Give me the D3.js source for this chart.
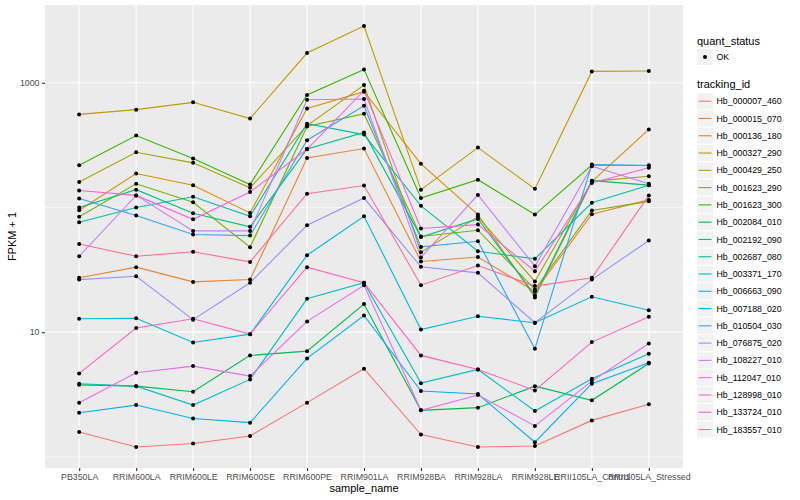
<!DOCTYPE html>
<html>
<head>
<meta charset="utf-8">
<script src="https://cdn.jsdelivr.net/npm/d3@7"></script>
<style>
  body { margin: 0; background: #fff; }
  svg { display: block; font-family: "Liberation Sans", Arial, Helvetica, sans-serif; }
</style>
</head>
<body>
<script>
// samples on the x axis
const samples = ["PB350LA", "RRIM600LA", "RRIM600LE", "RRIM600SE", "RRIM600PE", "RRIM901LA",
  "RRIM928BA", "RRIM928LA", "RRIM928LE", "RRII105LA_Control", "RRII105LA_Stressed"];

// FPKM + 1 per gene, one value per sample
const hb_000007_460 = [1.58, 1.20, 1.28, 1.47, 2.72, 5.09, 1.51, 1.20, 1.22, 1.96, 2.64];
const hb_000015_070 = [27.3, 33.2, 25.3, 26.4, 249, 297, 36.9, 40.1, 21.2, 88.2, 115];
const hb_000136_180 = [95.0, 187, 151, 90.5, 623, 848, 224, 87.7, 19.0, 161, 423];
const hb_000327_290 = [558, 609, 697, 517, 1733, 2852, 139, 302, 141, 1234, 1243];
const hb_000429_250 = [160, 277, 228, 144, 453, 960, 43.8, 84.1, 25.5, 162, 178];
const hb_001623_290 = [84.1, 155, 110, 48.0, 447, 565, 58.5, 65.7, 22.0, 94.5, 112];
const hb_001623_300 = [218, 377, 247, 153, 799, 1281, 119, 167, 87.7, 219, 217];
const hb_002084_010 = [3.78, 3.69, 3.33, 6.51, 7.04, 16.8, 2.36, 2.48, 3.69, 2.84, 5.61];
const hb_002192_090 = [99.8, 139, 89.8, 69.9, 295, 400, 57.9, 81.0, 19.7, 164, 151];
const hb_002687_080 = [76.1, 99.8, 122, 85.0, 470, 384, 103, 44.6, 38.7, 109, 151];
const hb_003371_170 = [3.86, 3.69, 2.60, 4.18, 18.5, 24.9, 3.90, 5.02, 2.33, 4.23, 6.71];
const hb_006663_090 = [12.8, 12.9, 8.27, 9.64, 41.4, 85.0, 10.5, 13.4, 11.9, 19.2, 15.0];
const hb_007188_020 = [2.26, 2.60, 2.03, 1.88, 6.16, 13.6, 3.37, 3.19, 1.31, 3.86, 5.69];
const hb_010504_030 = [118, 86.1, 60.7, 59.5, 346, 655, 48.3, 53.6, 7.36, 221, 217];
const hb_076875_020 = [26.4, 28.1, 12.6, 24.9, 72.0, 119, 33.4, 29.9, 11.9, 26.4, 54.3];
const hb_108227_010 = [40.6, 125, 64.9, 64.9, 732, 742, 39.7, 126, 33.8, 214, 155];
const hb_112047_010 = [2.72, 4.73, 5.34, 4.44, 12.2, 23.8, 2.36, 3.13, 1.77, 4.05, 8.12];
const hb_128998_010 = [137, 125, 80.4, 133, 293, 865, 67.8, 72.9, 30.8, 157, 208];
const hb_133724_010 = [4.67, 10.8, 12.8, 9.64, 33.2, 24.9, 6.51, 5.02, 3.41, 8.32, 13.3];
const hb_183557_010 = [50.9, 40.6, 44.1, 36.6, 129, 150, 23.8, 34.2, 23.4, 27.3, 125];

const trackingIds = ["Hb_000007_460", "Hb_000015_070", "Hb_000136_180", "Hb_000327_290",
  "Hb_000429_250", "Hb_001623_290", "Hb_001623_300", "Hb_002084_010", "Hb_002192_090",
  "Hb_002687_080", "Hb_003371_170", "Hb_006663_090", "Hb_007188_020", "Hb_010504_030",
  "Hb_076875_020", "Hb_108227_010", "Hb_112047_010", "Hb_128998_010", "Hb_133724_010",
  "Hb_183557_010"];

const seriesValues = [hb_000007_460, hb_000015_070, hb_000136_180, hb_000327_290,
  hb_000429_250, hb_001623_290, hb_001623_300, hb_002084_010, hb_002192_090,
  hb_002687_080, hb_003371_170, hb_006663_090, hb_007188_020, hb_010504_030,
  hb_076875_020, hb_108227_010, hb_112047_010, hb_128998_010, hb_133724_010,
  hb_183557_010];

const statusLabels = ["OK"];
const majorBreaks = [10, 1000];
const minorBreaks = [1, 100, 10000];

const series = trackingIds.map((id, i) => ({ id: id, values: seriesValues[i] }));

const width = 800, height = 500;
const panel = { left: 45, right: 683, top: 5, bottom: 468 };

// ggplot default hue palette for 20 levels
const z = d3.scaleOrdinal()
    .domain(trackingIds)
    .range(["#F8766D", "#EA8331", "#D89000", "#C09B00", "#A3A500", "#7CAE00", "#39B600",
            "#00BB4E", "#00BF7D", "#00C1A3", "#00BFC4", "#00BAE0", "#00B0F6", "#35A2FF",
            "#9590FF", "#C77CFF", "#E76BF3", "#FA62DB", "#FF62BC", "#FF6C91"]);

const x = d3.scalePoint()
    .domain(samples)
    .range([panel.left, panel.right])
    .padding(0.6);

// log scale with 5% expansion of the data range, like ggplot
const ext = d3.extent(seriesValues.flat()).map(Math.log10);
const pad = (ext[1] - ext[0]) * 0.05;
const y = d3.scaleLog()
    .domain([Math.pow(10, ext[0] - pad), Math.pow(10, ext[1] + pad)])
    .range([panel.bottom, panel.top]);

const svg = d3.select("body").append("svg")
    .attr("width", width)
    .attr("height", height);

svg.append("rect")
    .attr("width", width)
    .attr("height", height)
    .attr("fill", "#fff");

// panel + grid
svg.append("rect")
    .attr("x", panel.left)
    .attr("y", panel.top)
    .attr("width", panel.right - panel.left)
    .attr("height", panel.bottom - panel.top)
    .attr("fill", "#EBEBEB");

const grid = svg.append("g").attr("stroke", "#fff");

grid.selectAll(".minor")
  .data(minorBreaks.filter(d => d >= y.domain()[0] && d <= y.domain()[1]))
  .join("line")
    .attr("class", "minor")
    .attr("x1", panel.left)
    .attr("x2", panel.right)
    .attr("y1", d => y(d))
    .attr("y2", d => y(d))
    .attr("stroke-width", 0.55);

grid.selectAll(".major")
  .data(majorBreaks)
  .join("line")
    .attr("class", "major")
    .attr("x1", panel.left)
    .attr("x2", panel.right)
    .attr("y1", d => y(d))
    .attr("y2", d => y(d))
    .attr("stroke-width", 1.1);

grid.selectAll(".vmajor")
  .data(samples)
  .join("line")
    .attr("class", "vmajor")
    .attr("x1", d => x(d))
    .attr("x2", d => x(d))
    .attr("y1", panel.top)
    .attr("y2", panel.bottom)
    .attr("stroke-width", 1.1);

// lines
const line = d3.line()
    .x((d, i) => x(samples[i]))
    .y(d => y(d));

svg.append("g")
    .attr("fill", "none")
    .attr("stroke-width", 1.1)
  .selectAll("path")
  .data(series)
  .join("path")
    .attr("stroke", d => z(d.id))
    .attr("d", d => line(d.values));

// points
svg.append("g")
    .attr("fill", "#000")
  .selectAll("g")
  .data(series)
  .join("g")
  .selectAll("circle")
  .data(d => d.values.map((v, i) => ({ sample: samples[i], value: v })))
  .join("circle")
    .attr("cx", d => x(d.sample))
    .attr("cy", d => y(d.value))
    .attr("r", 2);

// axes
const yAxis = svg.append("g")
    .attr("transform", `translate(${panel.left},0)`)
    .call(d3.axisLeft(y).tickValues(majorBreaks).tickFormat(d3.format("d")).tickSize(3).tickPadding(2.5));

const xAxis = svg.append("g")
    .attr("transform", `translate(0,${panel.bottom})`)
    .call(d3.axisBottom(x).tickSize(3).tickPadding(2.5));

[xAxis, yAxis].forEach(g => {
  g.select(".domain").remove();
  g.selectAll(".tick line").attr("stroke", "#333333").attr("stroke-width", 1.1);
  g.selectAll(".tick text")
      .attr("fill", "#4D4D4D")
      .style("font-size", "8.8px")
      .style("font-family", "'Liberation Sans', Arial, sans-serif");
});

svg.append("text")
    .attr("x", (panel.left + panel.right) / 2)
    .attr("y", 492)
    .attr("text-anchor", "middle")
    .style("font-size", "11px")
    .text("sample_name");

svg.append("text")
    .attr("transform", `translate(16,${(panel.top + panel.bottom) / 2}) rotate(-90)`)
    .attr("text-anchor", "middle")
    .style("font-size", "11px")
    .text("FPKM + 1");

// legends
const keyX = 697, keySize = 17.28;

const statusLegend = svg.append("g");

statusLegend.append("text")
    .attr("x", keyX)
    .attr("y", 44.5)
    .style("font-size", "11px")
    .text("quant_status");

statusLegend.selectAll("g")
  .data(statusLabels)
  .join("g")
    .attr("transform", (d, i) => `translate(${keyX},${57 + i * keySize})`)
    .call(g => g.append("rect")
        .attr("y", -8)
        .attr("width", 16)
        .attr("height", 16)
        .attr("fill", "#F2F2F2"))
    .call(g => g.append("circle")
        .attr("cx", 8)
        .attr("r", 2)
        .attr("fill", "#000"))
    .call(g => g.append("text")
        .attr("x", 19.5)
        .attr("dy", "0.35em")
        .style("font-size", "8.8px")
        .text(d => d));

const idLegend = svg.append("g");

idLegend.append("text")
    .attr("x", keyX)
    .attr("y", 88.3)
    .style("font-size", "11px")
    .text("tracking_id");

idLegend.selectAll("g")
  .data(trackingIds)
  .join("g")
    .attr("transform", (d, i) => `translate(${keyX},${101.2 + i * keySize})`)
    .call(g => g.append("rect")
        .attr("y", -8)
        .attr("width", 16)
        .attr("height", 16)
        .attr("fill", "#F2F2F2"))
    .call(g => g.append("line")
        .attr("x1", 1.5)
        .attr("x2", 14.5)
        .attr("stroke", z)
        .attr("stroke-width", 1.1))
    .call(g => g.append("text")
        .attr("x", 19.5)
        .attr("dy", "0.35em")
        .style("font-size", "8.8px")
        .text(d => d));
</script>
</body>
</html>
